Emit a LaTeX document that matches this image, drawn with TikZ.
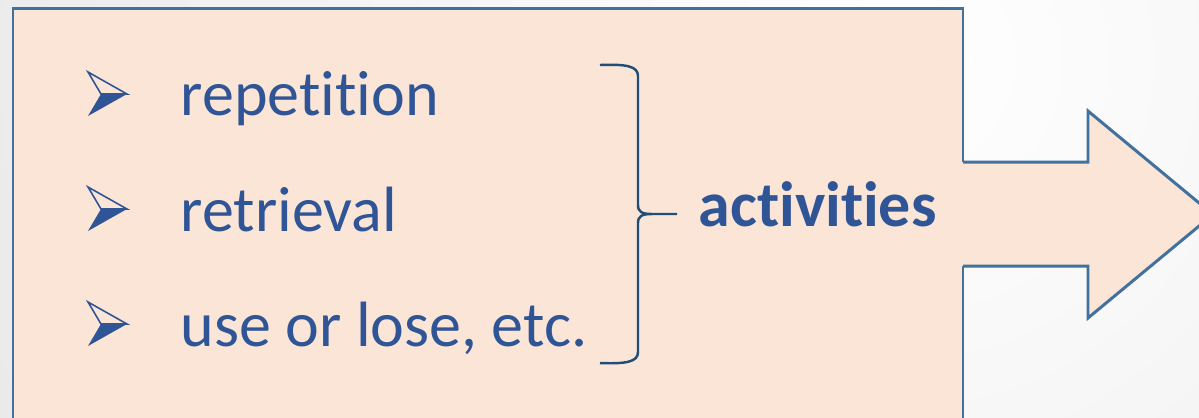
\documentclass[tikz,border=0pt]{standalone}
\usepackage{fontspec}
\setmainfont{Carlito}[Ligatures={NoCommon,NoRequired,NoContextual}]
\usepackage{tikz}
\usetikzlibrary{arrows.meta}
\definecolor{peach}{RGB}{251,229,214}
\definecolor{edgeblue}{RGB}{65,113,156}
\definecolor{txtblue}{RGB}{47,85,151}
\definecolor{braceblue}{RGB}{31,78,121}
\tikzset{
  item/.style={anchor=base west,text=txtblue,inner sep=0pt,
    font=\fontsize{18.2}{21}\selectfont},
}
\newcommand{\arrowbullet}[1]{%
  \fill[txtblue] (101,#1) -- (127,#1) -- (88,#1+22) -- cycle;
  \draw[txtblue,line width=0.45pt,line join=miter]
    (101,#1) -- (88,#1-22) -- (127,#1) -- cycle;
}

\begin{document}
\begin{tikzpicture}[x=0.01cm,y=-0.01cm]
  \useasboundingbox (0,0) rectangle (1199,417);
  \clip (0,0) rectangle (1199,417);
  \fill[white] (0,0) rectangle (1199,417);
  \shade[inner color=white,outer color=black!17] (900,60) circle (20cm);
  % box
  \draw[edgeblue,fill=peach,line width=0.85pt] (13,8) rectangle (963,440);
  % big arrow
  \fill[peach] (960,162) -- (1088,162) -- (1088,111) -- (1213,214.5)
    -- (1088,318) -- (1088,266) -- (960,266) -- cycle;
  \draw[edgeblue,line width=0.85pt,line join=miter] (963,162) -- (1088,162)
    -- (1088,111) -- (1213,214.5) -- (1088,318) -- (1088,266) -- (963,266);
  % list
  \arrowbullet{94}
  \arrowbullet{209}
  \arrowbullet{324}
  \node[item] (rep) at (180,115) {repetition};
  \node[item] (ret) at (180,231) {retrieval};
  \node[item] (use) at (180,346) {use or lose, etc.};
  % brace
  \draw[braceblue,line width=0.7pt] (600,65) .. controls (626,64) and (638,66) .. (638,76)
    -- (638,205) .. controls (638,212) and (642,214) .. (652,214) -- (677,214)
    (677,214) -- (652,214) .. controls (642,214) and (638,216) .. (638,223)
    -- (638,352) .. controls (638,362) and (626,364) .. (600,363);
  \node[item,font=\fontsize{18.2}{21}\selectfont\bfseries] (act) at (698,226) {activities};
\end{tikzpicture}
\end{document}
